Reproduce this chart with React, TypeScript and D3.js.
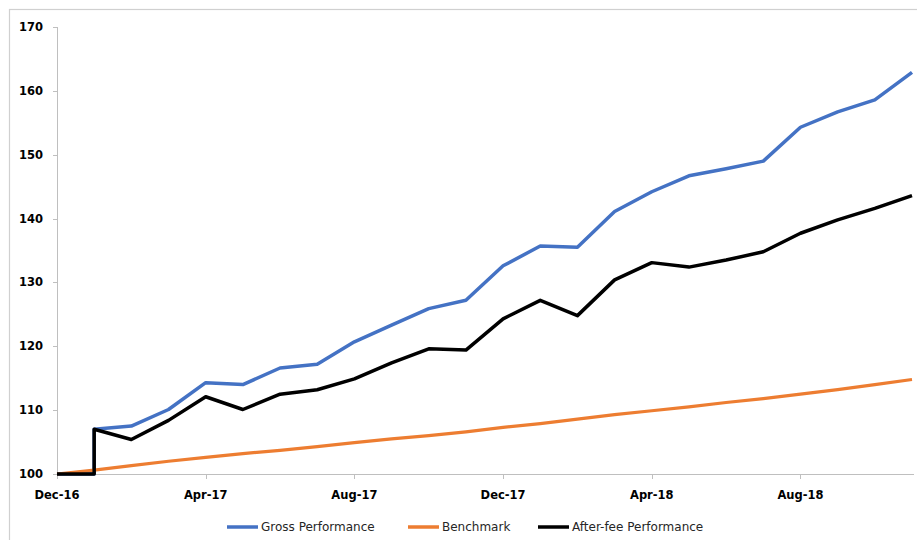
import React from "react";
import * as d3 from "d3";

// Observation months (the fund series have two observations in Jan-17)
const fundMonths = ["2016-12","2017-01","2017-01","2017-02","2017-03","2017-04","2017-05","2017-06","2017-07","2017-08","2017-09","2017-10","2017-11","2017-12","2018-01","2018-02","2018-03","2018-04","2018-05","2018-06","2018-07","2018-08","2018-09","2018-10","2018-11"];
const grossPerformance = [100,100,107.0,107.5,110.1,114.3,114.0,116.6,117.2,120.7,123.3,125.9,127.2,132.6,135.7,135.5,141.1,144.2,146.7,147.8,149.0,154.3,156.7,158.6,162.9];
const afterFeePerformance = [100,100,107.0,105.4,108.4,112.1,110.1,112.5,113.2,114.9,117.4,119.6,119.4,124.3,127.2,124.8,130.4,133.1,132.4,133.5,134.8,137.7,139.8,141.6,143.6];

const benchMonths = ["2016-12","2017-01","2017-02","2017-03","2017-04","2017-05","2017-06","2017-07","2017-08","2017-09","2017-10","2017-11","2017-12","2018-01","2018-02","2018-03","2018-04","2018-05","2018-06","2018-07","2018-08","2018-09","2018-10","2018-11"];
const benchmark = [100,100.6,101.3,102.0,102.6,103.2,103.7,104.3,104.9,105.5,106.0,106.6,107.3,107.9,108.6,109.3,109.9,110.5,111.2,111.8,112.5,113.2,114.0,114.8];

const xTickMonths = ["2016-12","2017-04","2017-08","2017-12","2018-04","2018-08"];
const xTickLabels = ["Dec-16","Apr-17","Aug-17","Dec-17","Apr-18","Aug-18"];
const yTicks = [100,110,120,130,140,150,160,170];

const seriesNames = ["Gross Performance","Benchmark","After-fee Performance"];
const seriesColors = ["#4472C4","#ED7D31","#000000"];

const monthIndex = (s: string) => {
  const [y, m] = s.split("-").map(Number);
  return (y - 2016) * 12 + (m - 12);
};

export default function App() {
  const W = 917, H = 540;
  const left = 57, right = 912, top = 27, bottom = 474;
  const x = d3.scaleLinear().domain([0, monthIndex("2018-11")]).range([left, right]);
  const y = d3.scaleLinear().domain([100, 170]).range([bottom, top]);

  const mk = (months: string[], vals: number[]) =>
    d3.line<number>().x((_, i) => x(monthIndex(months[i]))).y((v) => y(v))(vals) || "";

  const paths = [
    { d: mk(fundMonths, grossPerformance), color: seriesColors[0], w: 3.5 },
    { d: mk(benchMonths, benchmark), color: seriesColors[1], w: 3.2 },
    { d: mk(fundMonths, afterFeePerformance), color: seriesColors[2], w: 3.5 },
  ];

  const legendX = [227, 408, 538];
  const legendY = 527;
  const font = "'DejaVu Sans', Verdana, sans-serif";

  return (
    <svg width={W} height={H} style={{ position: "absolute", left: 0, top: 0 }}>
      <rect x={0} y={0} width={W} height={H} fill="#fff" />
      <rect x={9.5} y={9.5} width={W + 20} height={H + 20} fill="none" stroke="#d0d0d0" strokeWidth={1.2} />
      {/* y axis */}
      <line x1={left + 0.5} x2={left + 0.5} y1={y(170)} y2={bottom} stroke="#bfbfbf" />
      {yTicks.map((t) => (
        <g key={t}>
          <line x1={left - 4} x2={left} y1={Math.round(y(t)) + 0.5} y2={Math.round(y(t)) + 0.5} stroke="#bfbfbf" />
          <text x={43} y={y(t)} dy="0.35em" textAnchor="end" fontFamily={font} fontWeight="bold" fontSize={11.5} fill="#000">{t}</text>
        </g>
      ))}
      {/* x axis */}
      <line x1={left} x2={right + 2} y1={bottom + 0.5} y2={bottom + 0.5} stroke="#bfbfbf" />
      {xTickMonths.map((m, i) => (
        <g key={m}>
          <line x1={Math.round(x(monthIndex(m))) + 0.5} x2={Math.round(x(monthIndex(m))) + 0.5} y1={bottom} y2={bottom + 5} stroke="#bfbfbf" />
          <text x={x(monthIndex(m))} y={495} dy="0.35em" textAnchor="middle" fontFamily={font} fontWeight="bold" fontSize={11.5} fill="#000">{xTickLabels[i]}</text>
        </g>
      ))}
      {paths.map((p, i) => (
        <path key={i} d={p.d} fill="none" stroke={p.color} strokeWidth={p.w} strokeLinejoin="round" />
      ))}
      {seriesNames.map((n, i) => (
        <g key={n}>
          <line x1={legendX[i]} x2={legendX[i] + 31} y1={legendY} y2={legendY} stroke={seriesColors[i]} strokeWidth={3.5} />
          <text x={legendX[i] + 34} y={legendY} dy="0.35em" fontFamily={font} fontSize={12} fill="#262626">{n}</text>
        </g>
      ))}
    </svg>
  );
}
